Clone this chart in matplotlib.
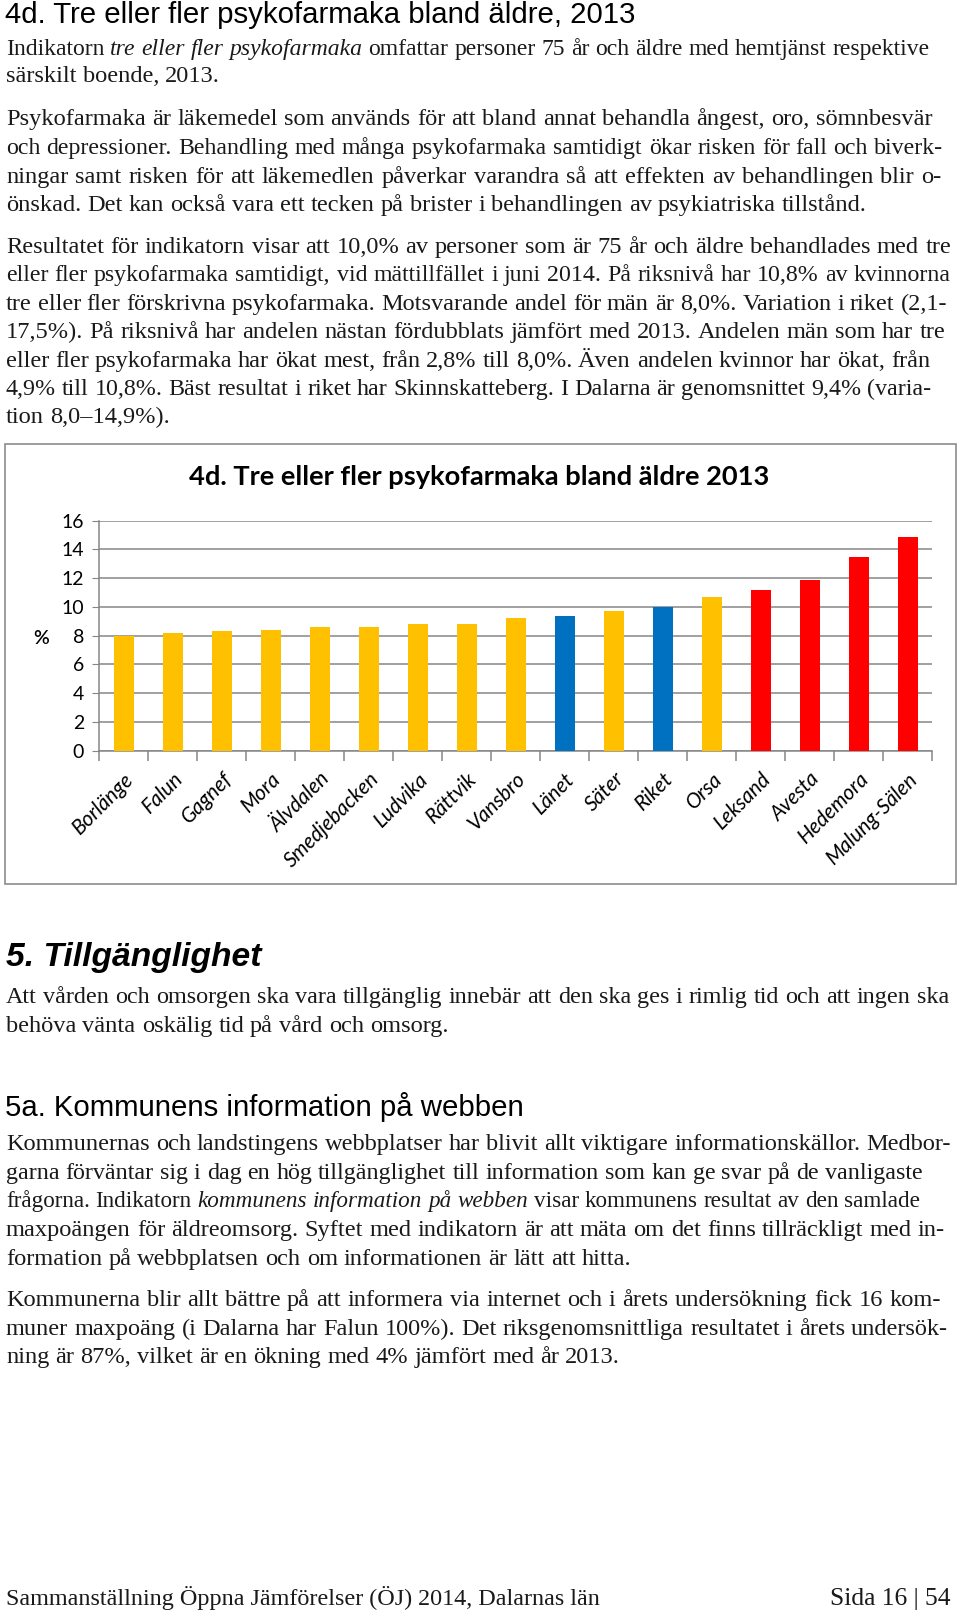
import matplotlib
matplotlib.use("Agg")
import matplotlib.pyplot as plt
from matplotlib.patches import Rectangle
import numpy as np

# --- chart data ---
kommuner = ["Borlänge", "Falun", "Gagnef", "Mora", "Älvdalen", "Smedjebacken",
            "Ludvika", "Rättvik", "Vansbro", "Länet", "Säter", "Riket", "Orsa",
            "Leksand", "Avesta", "Hedemora", "Malung-Sälen"]
andel = [8.0, 8.2, 8.3, 8.4, 8.6, 8.6, 8.8, 8.8, 9.2, 9.4, 9.7, 10.0, 10.7,
         11.2, 11.9, 13.5, 14.9]
grupp = ["mitt"] * 9 + ["ref", "mitt", "ref", "mitt"] + ["hog"] * 4
y_ticks = [0, 2, 4, 6, 8, 10, 12, 14, 16]
diagram_titel = "4d. Tre eller fler psykofarmaka bland äldre 2013"

farger = {"mitt": "#FFC000", "ref": "#0070C0", "hog": "#FF0000"}

# --- page text: (line centre y, right edge or None, segments (text, italic)) ---
rader = [
    (48, 930, [("Indikatorn ", False), ("tre eller fler psykofarmaka", True),
               (" omfattar personer 75 år och äldre med hemtjänst respektive", False)]),
    (75, None, [("särskilt boende, 2013.", False)]),
    (118, 932, [("Psykofarmaka är läkemedel som används för att bland annat behandla ångest, oro, sömnbesvär", False)]),
    (147, 943, [("och depressioner. Behandling med många psykofarmaka samtidigt ökar risken för fall och biverk-", False)]),
    (176, 941, [("ningar samt risken för att läkemedlen påverkar varandra så att effekten av behandlingen blir o-", False)]),
    (204, None, [("önskad. Det kan också vara ett tecken på brister i behandlingen av psykiatriska tillstånd.", False)]),
    (246, 951, [("Resultatet för indikatorn visar att 10,0% av personer som är 75 år och äldre behandlades med tre", False)]),
    (274, 951, [("eller fler psykofarmaka samtidigt, vid mättillfället i juni 2014. På riksnivå har 10,8% av kvinnorna", False)]),
    (303, 947, [("tre eller fler förskrivna psykofarmaka. Motsvarande andel för män är 8,0%. Variation i riket (2,1-", False)]),
    (331, 945, [("17,5%). På riksnivå har andelen nästan fördubblats jämfört med 2013. Andelen män som har tre", False)]),
    (360, 930, [("eller fler psykofarmaka har ökat mest, från 2,8% till 8,0%. Även andelen kvinnor har ökat, från", False)]),
    (388, 931, [("4,9% till 10,8%. Bäst resultat i riket har Skinnskatteberg. I Dalarna är genomsnittet 9,4% (varia-", False)]),
    (416, None, [("tion 8,0–14,9%).", False)]),
    (996, 949, [("Att vården och omsorgen ska vara tillgänglig innebär att den ska ges i rimlig tid och att ingen ska", False)]),
    (1025, None, [("behöva vänta oskälig tid på vård och omsorg.", False)]),
    (1143, 951, [("Kommunernas och landstingens webbplatser har blivit allt viktigare informationskällor. Medbor-", False)]),
    (1172, 923, [("garna förväntar sig i dag en hög tillgänglighet till information som kan ge svar på de vanligaste", False)]),
    (1200, 920, [("frågorna. Indikatorn ", False), ("kommunens information på webben", True),
                 (" visar kommunens resultat av den samlade", False)]),
    (1229, 945, [("maxpoängen för äldreomsorg. Syftet med indikatorn är att mäta om det finns tillräckligt med in-", False)]),
    (1258, None, [("formation på webbplatsen och om informationen är lätt att hitta.", False)]),
    (1299, 941, [("Kommunerna blir allt bättre på att informera via internet och i årets undersökning fick 16 kom-", False)]),
    (1328, 948, [("muner maxpoäng (i Dalarna har Falun 100%). Det riksgenomsnittliga resultatet i årets undersök-", False)]),
    (1356, None, [("ning är 87%, vilket är en ökning med 4% jämfört med år 2013.", False)]),
]

W, H = 960, 1612
fig = plt.figure(figsize=(W / 100, H / 100), dpi=100)
page = fig.add_axes([0, 0, 1, 1])
page.set_xlim(0, W)
page.set_ylim(H, 0)
page.axis("off")

fig.canvas.draw()
r = fig.canvas.get_renderer()

SERIF = "Liberation Serif"
SANS = "Liberation Sans"
INK = "#1a1a1a"
X0 = 6


def bredd(txt, fs, **kw):
    t = page.text(0, 0, txt, fontsize=fs, **kw)
    w = t.get_window_extent(r).width
    t.remove()
    return w


def fit(x, y, txt, right, ha="left", **kw):
    t = page.text(x, y, txt, fontsize=10, ha=ha, va="baseline", **kw)
    w = t.get_window_extent(r).width
    t.set_fontsize(10 * (right - x) / w if ha == "left" else 10 * right / w)
    return t


# body size from paragraph-final lines (natural width)
prov = [("önskad. Det kan också vara ett tecken på brister i behandlingen av psykiatriska tillstånd.", 858),
        ("behöva vänta oskälig tid på vård och omsorg.", 449),
        ("formation på webbplatsen och om informationen är lätt att hitta.", 639),
        ("ning är 87%, vilket är en ökning med 4% jämfört med år 2013.", 617)]
body_fs = float(np.mean([10 * (h - X0) / bredd(t, 10, family=SERIF) for t, h in prov]))

for yc, hoger, delar in rader:
    ord_ = []
    slut_mellanslag = True
    for txt, kursiv in delar:
        stil = "italic" if kursiv else "normal"
        bitar = txt.split(" ")
        for i, w in enumerate(bitar):
            if w == "":
                continue
            if i == 0 and ord_ and not slut_mellanslag:
                ny = False
            else:
                ny = True
            ord_.append([w, stil, ny])
        slut_mellanslag = txt.endswith(" ")
    fs = body_fs
    bredder = [bredd(w, fs, family=SERIF, style=s) for w, s, _ in ord_]
    mell = bredd("a a", fs, family=SERIF) - bredd("aa", fs, family=SERIF)
    n_mell = sum(1 for o in ord_[1:] if o[2])
    naturlig = sum(bredder) + n_mell * mell
    if hoger is not None:
        tillgang = hoger - X0
        if naturlig > tillgang:
            fs = fs * tillgang / naturlig
            bredder = [b * tillgang / naturlig for b in bredder]
            mell = mell * tillgang / naturlig
        else:
            mell = mell + (tillgang - naturlig) / max(n_mell, 1)
    x = X0
    for k, (w, s, ny) in enumerate(ord_):
        if k > 0 and ny:
            x += mell
        page.text(x, yc + 7, w, fontsize=fs, family=SERIF, style=s,
                  ha="left", va="baseline", color=INK)
        x += bredder[k]

# headings
fit(5, 23, "4d. Tre eller fler psykofarmaka bland äldre, 2013", 639, family=SANS)
fit(6, 966, "5. Tillgänglighet", 262, family=SANS, weight="bold", style="italic")
fit(5, 1116, "5a. Kommunens information på webben", 526, family=SANS)

# footer
fit(6, 1605, "Sammanställning Öppna Jämförelser (ÖJ) 2014, Dalarnas län", 601,
    family=SERIF, color=INK)
t = page.text(951, 1605, "Sida 16 | 54", fontsize=10, ha="right", va="baseline",
              family=SERIF, color=INK)
t.set_fontsize(10 * 121 / t.get_window_extent(r).width)

# chart frame
page.add_patch(Rectangle((4.5, 443.5), 951, 440.5, fill=False,
                         edgecolor="#8c8c8c", lw=1.2))
fit(479, 485, diagram_titel, 584, ha="center", family="Lato", weight="bold")
page.text(41, 638, "%", fontsize=14, family="Lato", weight="semibold",
          ha="center", va="center")

# chart
ax = fig.add_axes([99.3 / W, 1 - 750.7 / H, 833 / W, 230 / H])
x = np.arange(len(kommuner))
ax.bar(x, andel, width=0.41, color=[farger[g] for g in grupp], zorder=3)
ax.set_xlim(-0.5, len(kommuner) - 0.5)
ax.set_ylim(0, 16)
ax.set_yticks(y_ticks)
ax.set_yticklabels([str(v) for v in y_ticks], family="Lato", fontsize=14)
ax.yaxis.grid(True, color="#868686", lw=1.1, zorder=0)
ax.set_axisbelow(True)
for s in ["top", "right"]:
    ax.spines[s].set_visible(False)
for s in ["left", "bottom"]:
    ax.spines[s].set_color("#868686")
    ax.spines[s].set_linewidth(1.1)
ax.tick_params(axis="y", length=5, color="#868686", pad=6)
ax.set_xticks(x)
ax.set_xticklabels(kommuner, rotation=45, ha="right", va="top",
                   rotation_mode="anchor", family="Lato", style="italic",
                   fontsize=15)
ax.tick_params(axis="x", which="major", length=0, pad=13)
ax.set_xticks(np.arange(-0.5, len(kommuner), 1), minor=True)
ax.tick_params(axis="x", which="minor", length=7, color="#868686", width=1.1)
ax.patch.set_alpha(0)

fig.savefig("out.png", dpi=100)
